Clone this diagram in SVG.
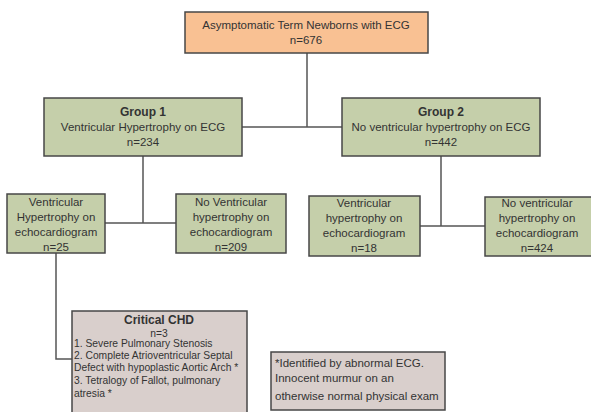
<svg xmlns="http://www.w3.org/2000/svg" width="591" height="412" viewBox="0 0 591 412">
  <style>
    .box { stroke: #474747; stroke-width: 1.5; }
    .root { fill: #F9C193; }
    .grp { fill: #C5CFAA; }
    .crit { fill: #D9CFCC; }
    .note { fill: #D9CFCC; }
    text { font-family: "Liberation Sans", Arial, sans-serif; font-size: 11.5px; fill: #333333; }
    .c { text-anchor: middle; }
    .b { font-weight: bold; font-size: 12px; }
    .list { font-size: 10.3px; }
    .wire { fill: none; stroke: #555555; stroke-width: 1.5; }
  </style>
  <rect width="591" height="412" fill="#ffffff"/>

  <g id="connectors">
    <path class="wire" d="M307 53 V127 M242 127 H342"/>
    <path class="wire" d="M143 156 V223 M105 223 H176"/>
    <path class="wire" d="M441 156 V226 M420 226 H485"/>
    <path class="wire" d="M56 253 V359 H72"/>
  </g>

  <g id="root">
    <rect class="box root" x="185" y="12" width="243" height="41"/>
    <text class="c" x="306" y="29">Asymptomatic Term Newborns with ECG</text>
    <text class="c" x="306" y="44">n=676</text>
  </g>

  <g id="group1">
    <rect class="box grp" x="44" y="98" width="198" height="58"/>
    <text class="c b" x="143" y="116">Group 1</text>
    <text class="c" x="143" y="131">Ventricular Hypertrophy on ECG</text>
    <text class="c" x="143" y="146">n=234</text>
  </g>

  <g id="group2">
    <rect class="box grp" x="342" y="98" width="198" height="58"/>
    <text class="c b" x="441" y="116">Group 2</text>
    <text class="c" x="441" y="131">No ventricular hypertrophy on ECG</text>
    <text class="c" x="441" y="146">n=442</text>
  </g>

  <g id="g1-vh">
    <rect class="box grp" x="7" y="194" width="98" height="59"/>
    <text class="c" x="56" y="206">Ventricular</text>
    <text class="c" x="56" y="221">Hypertrophy on</text>
    <text class="c" x="56" y="236">echocardiogram</text>
    <text class="c" x="56" y="251">n=25</text>
  </g>

  <g id="g1-novh">
    <rect class="box grp" x="176" y="194" width="110" height="59"/>
    <text class="c" x="231" y="206">No Ventricular</text>
    <text class="c" x="231" y="221">hypertrophy on</text>
    <text class="c" x="231" y="236">echocardiogram</text>
    <text class="c" x="231" y="251">n=209</text>
  </g>

  <g id="g2-vh">
    <rect class="box grp" x="309" y="196" width="111" height="60"/>
    <text class="c" x="364" y="207">Ventricular</text>
    <text class="c" x="364" y="222">hypertrophy on</text>
    <text class="c" x="364" y="237">echocardiogram</text>
    <text class="c" x="364" y="252">n=18</text>
  </g>

  <g id="g2-novh">
    <rect class="box grp" x="485" y="197" width="110" height="59"/>
    <text class="c" x="537" y="207">No ventricular</text>
    <text class="c" x="537" y="222">hypertrophy on</text>
    <text class="c" x="537" y="237">echocardiogram</text>
    <text class="c" x="537" y="252">n=424</text>
  </g>

  <g id="critical-chd">
    <rect class="box crit" x="72" y="311" width="175" height="104"/>
    <text class="c b" x="159" y="324">Critical CHD</text>
    <text class="c list" x="159" y="337">n=3</text>
    <text class="list" x="74" y="347">1. Severe Pulmonary Stenosis</text>
    <text class="list" x="74" y="359">2. Complete Atrioventricular Septal</text>
    <text class="list" x="74" y="371">Defect with hypoplastic Aortic Arch *</text>
    <text class="list" x="74" y="384">3. Tetralogy of Fallot, pulmonary</text>
    <text class="list" x="74" y="397">atresia *</text>
  </g>

  <g id="footnote">
    <rect class="box note" x="271" y="352" width="174" height="58"/>
    <text x="275" y="367">*Identified by abnormal ECG.</text>
    <text x="275" y="382">Innocent murmur on an</text>
    <text x="275" y="400">otherwise normal physical exam</text>
  </g>
</svg>
